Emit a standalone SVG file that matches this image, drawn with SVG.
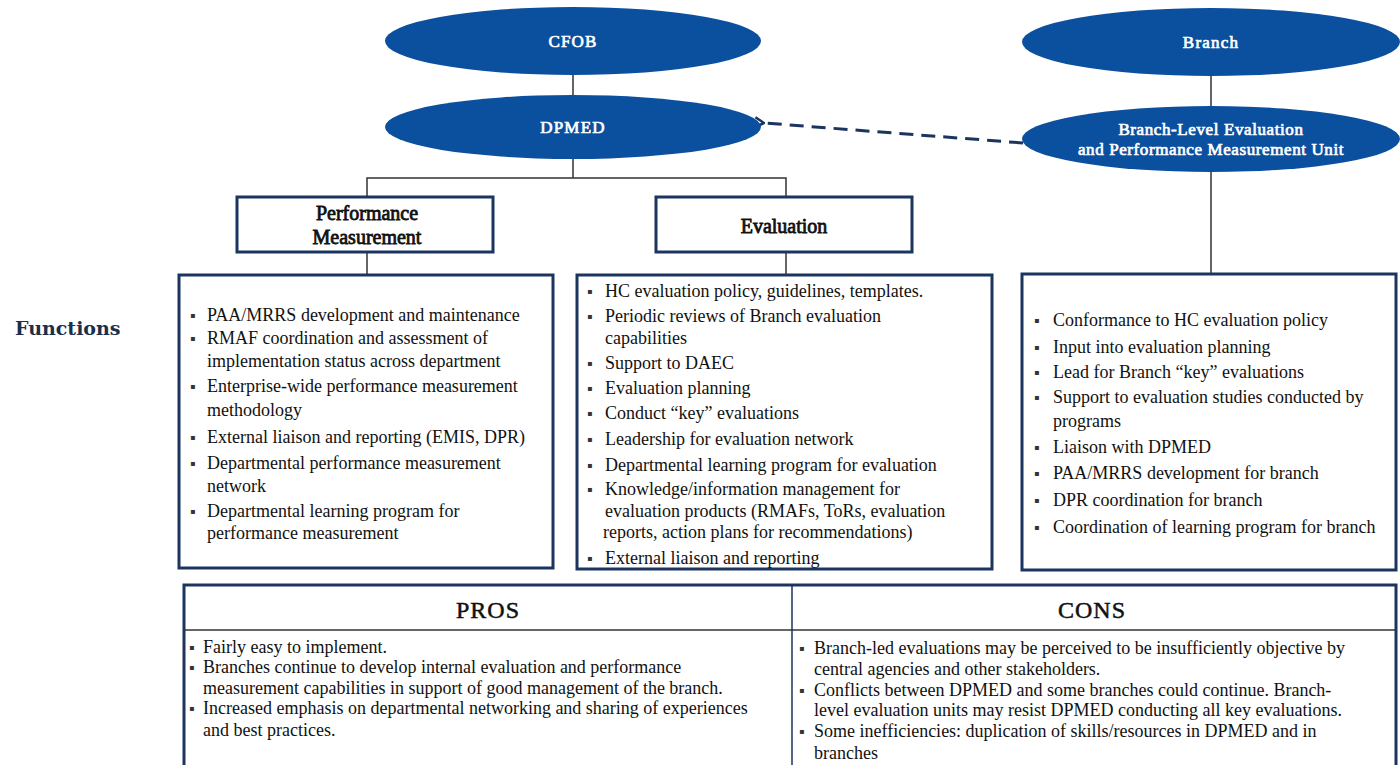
<svg xmlns="http://www.w3.org/2000/svg" width="1400" height="765" viewBox="0 0 1400 765">
<style>
.el{fill:#0b4f9f}
.elt{font-family:"Liberation Serif","Times New Roman",serif;fill:#fff;stroke:#fff;stroke-width:0.7;font-size:17px;letter-spacing:1.2px;text-anchor:middle}
.box{fill:#fff;stroke:#1b355e;stroke-width:3}
.hd{font-family:"Liberation Serif","Times New Roman",serif;font-size:20px;fill:#111;stroke:#111;stroke-width:0.8;text-anchor:middle}
.t{font-family:"Liberation Serif","Times New Roman",serif;font-size:18px;fill:#111}
.bl{font-family:"DejaVu Sans",sans-serif;font-size:8px;fill:#333}
.conn{stroke:#333;stroke-width:1.5;fill:none}
.dash{stroke:#1b355e;stroke-width:3;fill:none;stroke-dasharray:14 8}
.th{font-family:"Liberation Serif","Times New Roman",serif;font-size:24px;fill:#111;stroke:#111;stroke-width:0.5;text-anchor:middle;letter-spacing:1px}
.fn{font-family:"DejaVu Serif",serif;font-weight:bold;font-size:19px;fill:#1c2e4a}
</style>
<defs>
<marker id="arr" markerWidth="12" markerHeight="12" refX="1" refY="6" orient="auto" markerUnits="userSpaceOnUse">
<path d="M10,1 L1,6 L10,11" fill="none" stroke="#1b355e" stroke-width="2.5"/>
</marker>
</defs>
<rect width="1400" height="765" fill="#fff"/>

<g id="connectors">
<line class="conn" x1="573" y1="74" x2="573" y2="96"/>
<polyline class="conn" points="573,159 573,178"/>
<polyline class="conn" points="367,197 367,178 786,178 786,197"/>
<line class="conn" x1="367" y1="252" x2="367" y2="275"/>
<line class="conn" x1="786" y1="252" x2="786" y2="275"/>
<line class="conn" x1="1211" y1="76" x2="1211" y2="106"/>
<line class="conn" x1="1211" y1="172" x2="1211" y2="274"/>
<line class="dash" x1="1023" y1="143" x2="764" y2="123" marker-end="url(#arr)"/>
</g>

<g id="cfob">
<ellipse class="el" cx="573" cy="41" rx="188" ry="34"/>
<text class="elt" x="573" y="47">CFOB</text>
</g>
<g id="dpmed">
<ellipse class="el" cx="573" cy="127" rx="188" ry="32"/>
<text class="elt" x="573" y="133">DPMED</text>
</g>
<g id="branch">
<ellipse class="el" cx="1211" cy="42" rx="189" ry="34"/>
<text class="elt" x="1211" y="48">Branch</text>
</g>
<g id="branch-unit">
<ellipse class="el" cx="1211" cy="139" rx="189" ry="33"/>
<text class="elt" x="1211" y="135" style="letter-spacing:0.6px">Branch-Level Evaluation</text>
<text class="elt" x="1211" y="155" style="letter-spacing:0.6px">and Performance Measurement Unit</text>
</g>

<g id="perf-measurement">
<rect class="box" x="237" y="197" width="256" height="55"/>
<text class="hd" x="367" y="220">Performance</text>
<text class="hd" x="367" y="244">Measurement</text>
</g>
<g id="evaluation">
<rect class="box" x="656" y="197" width="256" height="55"/>
<text class="hd" x="784" y="233">Evaluation</text>
</g>

<g id="functions-label">
<text class="fn" x="15" y="335">Functions</text>
</g>

<g id="pm-functions">
<rect class="box" x="179" y="275" width="374" height="293"/>
<text class="bl" x="190" y="318">▪</text><text class="t" x="207" y="321">PAA/MRRS  development and maintenance</text>
<text class="bl" x="190" y="341">▪</text><text class="t" x="207" y="344">RMAF coordination and assessment of</text>
<text class="t" x="207" y="367">implementation status across department</text>
<text class="bl" x="190" y="389">▪</text><text class="t" x="207" y="392">Enterprise-wide performance measurement</text>
<text class="t" x="207" y="416">methodology</text>
<text class="bl" x="190" y="440">▪</text><text class="t" x="207" y="443">External liaison and reporting (EMIS, DPR)</text>
<text class="bl" x="190" y="466">▪</text><text class="t" x="207" y="469">Departmental performance measurement</text>
<text class="t" x="207" y="492">network</text>
<text class="bl" x="190" y="514">▪</text><text class="t" x="207" y="517">Departmental learning program for</text>
<text class="t" x="207" y="539">performance measurement</text>
</g>

<g id="eval-functions">
<rect class="box" x="577" y="275" width="415" height="294"/>
<text class="bl" x="587" y="294">▪</text><text class="t" x="605" y="297">HC evaluation policy, guidelines, templates.</text>
<text class="bl" x="587" y="319">▪</text><text class="t" x="605" y="322">Periodic reviews of Branch evaluation</text>
<text class="t" x="605" y="344">capabilities</text>
<text class="bl" x="587" y="366">▪</text><text class="t" x="605" y="369">Support to DAEC</text>
<text class="bl" x="587" y="391">▪</text><text class="t" x="605" y="394">Evaluation planning</text>
<text class="bl" x="587" y="416">▪</text><text class="t" x="605" y="419">Conduct “key” evaluations</text>
<text class="bl" x="587" y="442">▪</text><text class="t" x="605" y="445">Leadership for evaluation network</text>
<text class="bl" x="587" y="468">▪</text><text class="t" x="605" y="471">Departmental learning program for evaluation</text>
<text class="bl" x="587" y="492">▪</text><text class="t" x="605" y="495">Knowledge/information management for</text>
<text class="t" x="605" y="517">evaluation products (RMAFs, ToRs, evaluation</text>
<text class="t" x="603" y="538">reports, action plans for recommendations)</text>
<text class="bl" x="587" y="561">▪</text><text class="t" x="605" y="564">External liaison and reporting</text>
</g>

<g id="branch-functions">
<rect class="box" x="1022" y="274" width="374" height="296"/>
<text class="bl" x="1034" y="323">▪</text><text class="t" x="1053" y="326">Conformance to HC evaluation policy</text>
<text class="bl" x="1034" y="350">▪</text><text class="t" x="1053" y="353">Input into evaluation planning</text>
<text class="bl" x="1034" y="375">▪</text><text class="t" x="1053" y="378">Lead for Branch “key” evaluations</text>
<text class="bl" x="1034" y="400">▪</text><text class="t" x="1053" y="403">Support to evaluation studies conducted by</text>
<text class="t" x="1053" y="427">programs</text>
<text class="bl" x="1034" y="450">▪</text><text class="t" x="1053" y="453">Liaison with DPMED</text>
<text class="bl" x="1034" y="476">▪</text><text class="t" x="1053" y="479">PAA/MRRS development for branch</text>
<text class="bl" x="1034" y="503">▪</text><text class="t" x="1053" y="506">DPR coordination for branch</text>
<text class="bl" x="1034" y="530">▪</text><text class="t" x="1053" y="533">Coordination of learning program for branch</text>
</g>

<g id="pros-cons">
<rect x="184" y="585" width="1212" height="200" fill="#fff" stroke="#1b355e" stroke-width="3"/>
<line x1="184" y1="630" x2="1396" y2="630" stroke="#333" stroke-width="1.5"/>
<line x1="792" y1="585" x2="792" y2="765" stroke="#1b355e" stroke-width="1.5"/>
<text class="th" x="488" y="618">PROS</text>
<text class="th" x="1092" y="618">CONS</text>
<text class="bl" x="189" y="650">▪</text><text class="t" x="203" y="653">Fairly easy to implement.</text>
<text class="bl" x="189" y="670">▪</text><text class="t" x="203" y="673">Branches continue to develop internal evaluation and performance</text>
<text class="t" x="203" y="694">measurement capabilities in support of good management of the branch.</text>
<text class="bl" x="189" y="711">▪</text><text class="t" x="203" y="714">Increased emphasis on departmental networking and sharing of experiences</text>
<text class="t" x="203" y="736">and best practices.</text>
<text class="bl" x="799" y="651">▪</text><text class="t" x="814" y="654">Branch-led evaluations may be perceived to be insufficiently objective by</text>
<text class="t" x="814" y="675">central agencies and other stakeholders.</text>
<text class="bl" x="799" y="693">▪</text><text class="t" x="814" y="696">Conflicts between DPMED and some branches could continue. Branch-</text>
<text class="t" x="814" y="716">level evaluation units may resist DPMED conducting all key evaluations.</text>
<text class="bl" x="799" y="734">▪</text><text class="t" x="814" y="737">Some inefficiencies: duplication of skills/resources in DPMED and in</text>
<text class="t" x="814" y="759">branches</text>
</g>
</svg>
